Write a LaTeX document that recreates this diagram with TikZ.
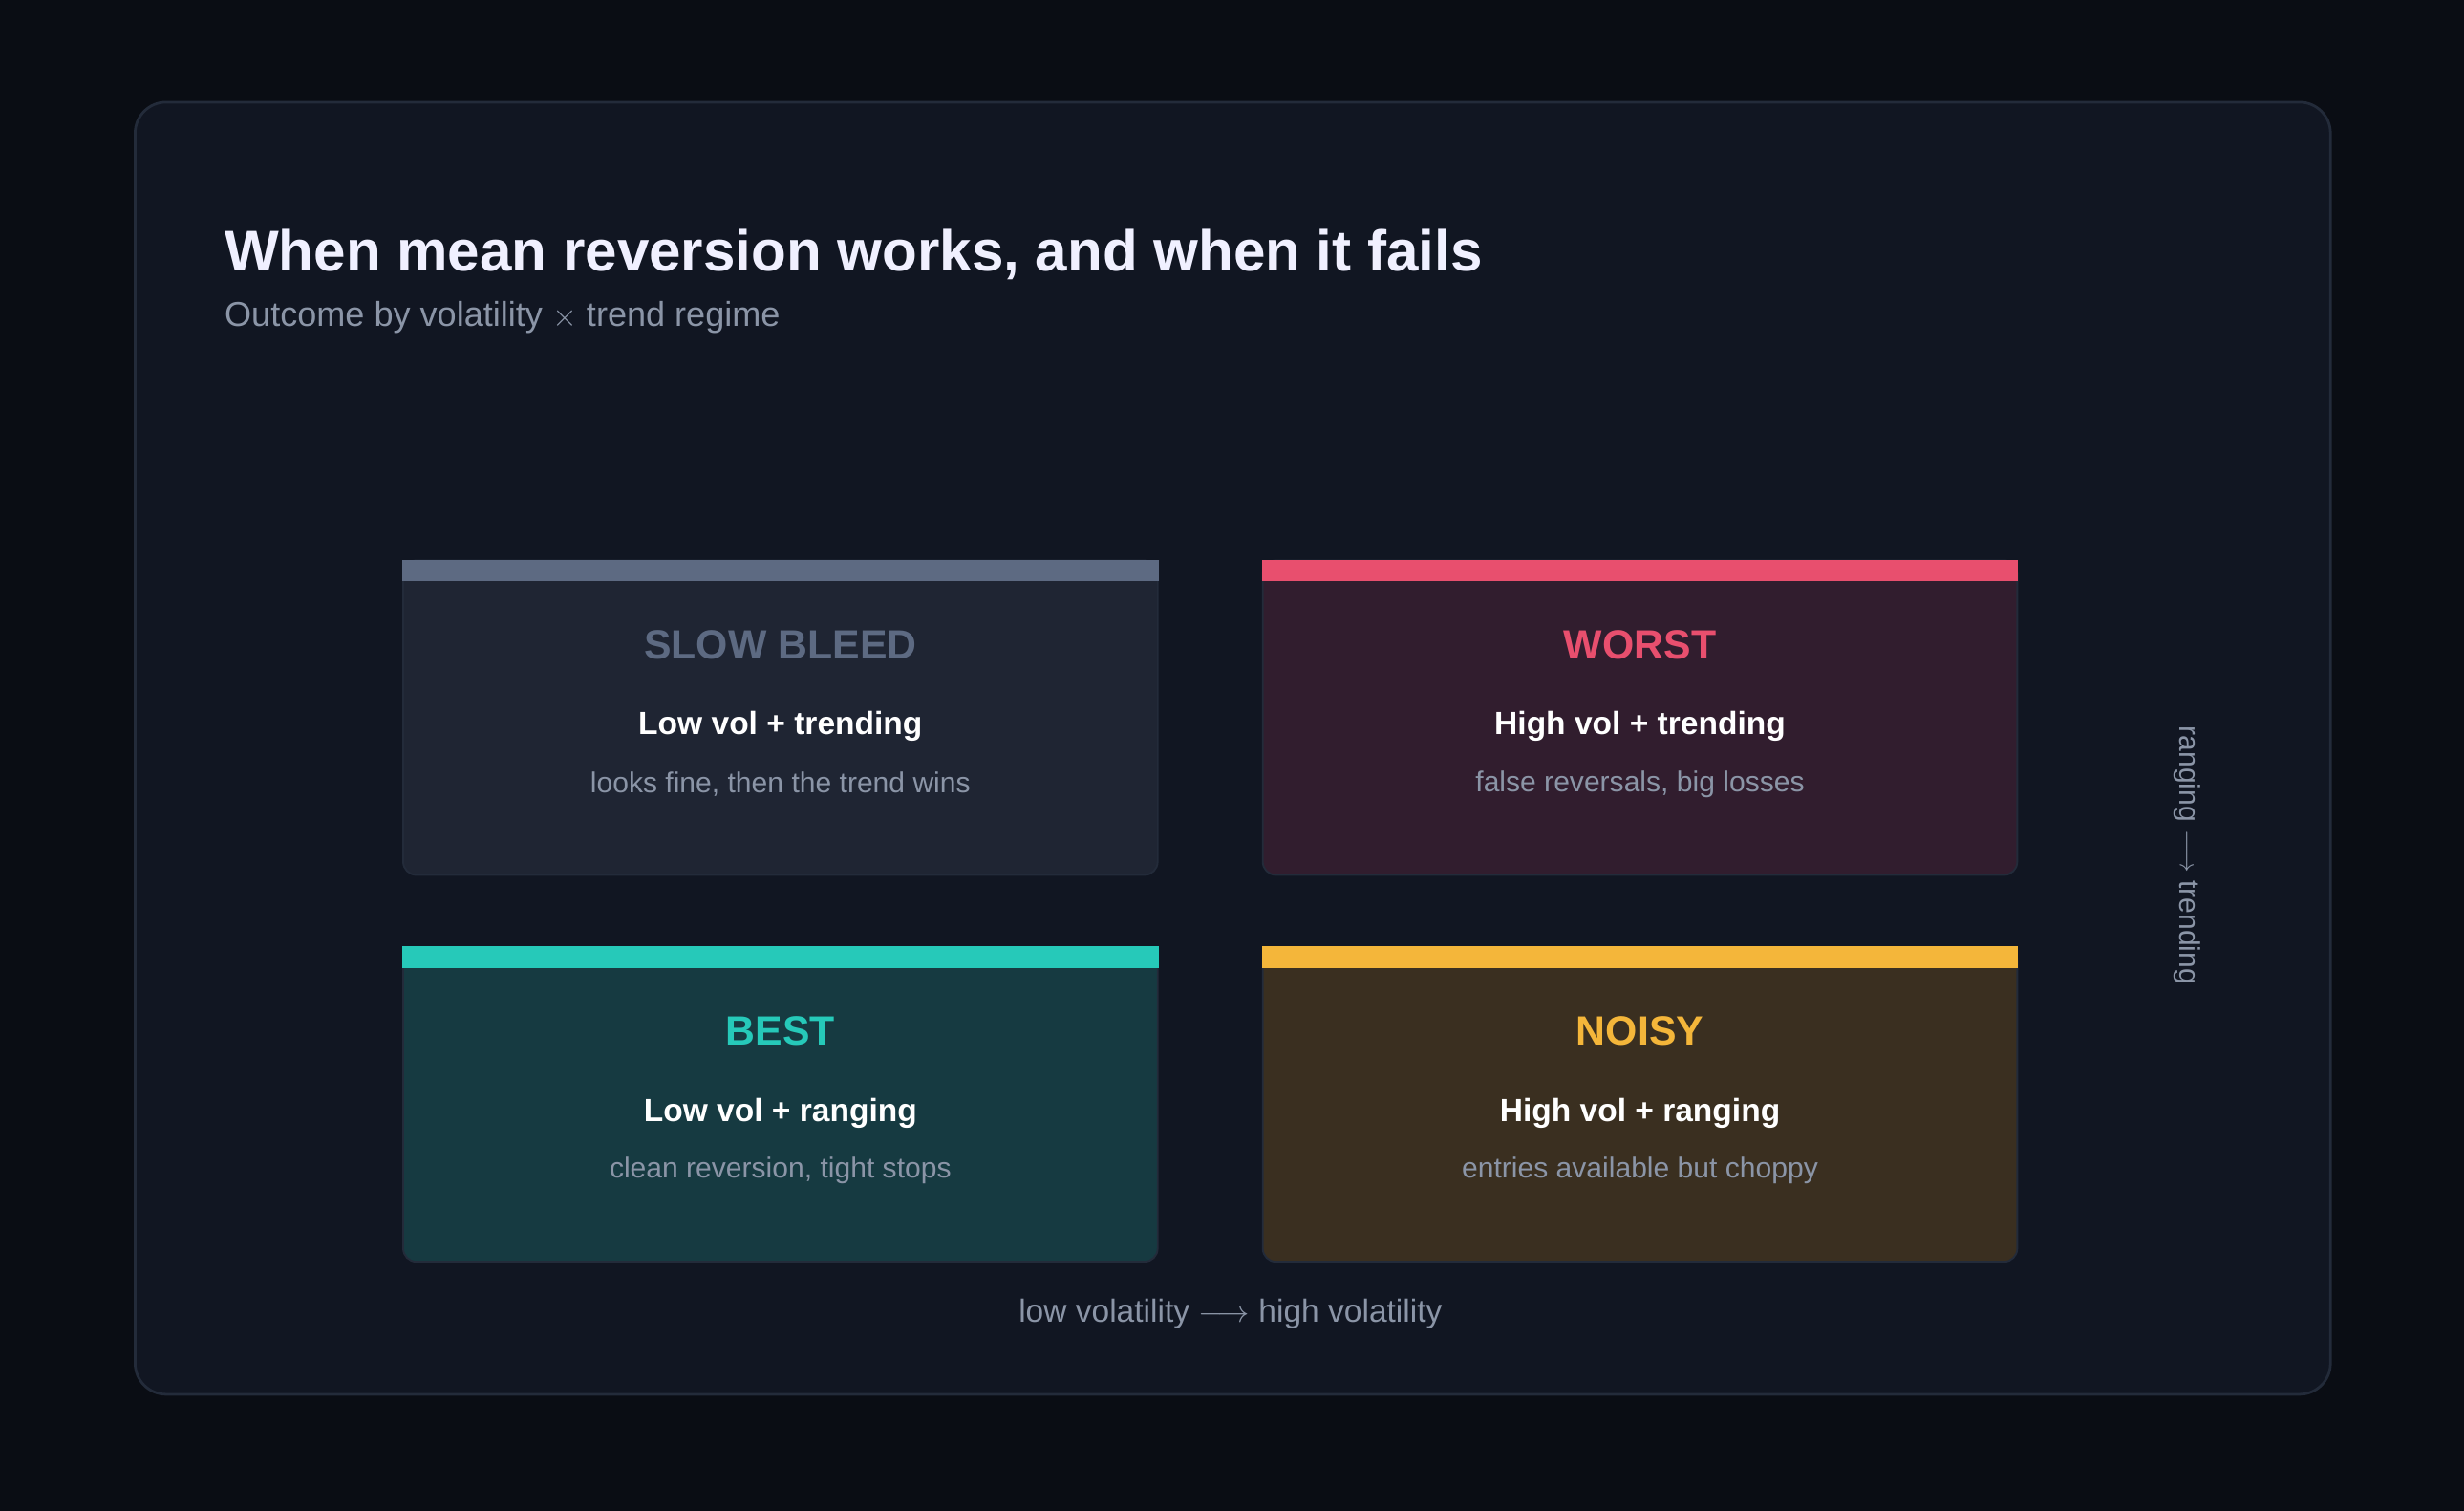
\documentclass[tikz,border=0pt]{standalone}
\usepackage{fontspec}
\setmainfont{Liberation Sans}
\usetikzlibrary{positioning}
\definecolor{bgdark}{HTML}{0A0D14}
\definecolor{panel}{HTML}{111622}
\definecolor{panelline}{HTML}{232B3A}
\definecolor{subgray}{HTML}{8B95A7}
\definecolor{slowbar}{HTML}{5D6A82}
\definecolor{slowfill}{HTML}{1F2533}
\definecolor{worstbar}{HTML}{E84F6E}
\definecolor{worstfill}{HTML}{311D2E}
\definecolor{bestbar}{HTML}{26C9B9}
\definecolor{bestfill}{HTML}{163A41}
\definecolor{noisybar}{HTML}{F4B63A}
\definecolor{noisyfill}{HTML}{3A2F20}
\begin{document}
\begin{tikzpicture}[x=0.025cm,y=-0.025cm]
		\tikzstyle{card}=[rectangle, rounded corners=6pt, minimum width=12cm, minimum height=5cm, draw=panelline, line width=0.8pt, anchor=north west]
		\tikzstyle{head}=[font=\fontsize{18.5}{20}\selectfont\bfseries, node distance=1.4cm]
		\tikzstyle{what}=[font=\fontsize{14.5}{16}\selectfont\bfseries, text=white, node distance=0.55cm]
		\tikzstyle{note}=[font=\fontsize{13}{15}\selectfont, text=subgray, node distance=0.45cm]
		\tikzstyle{axis}=[font=\fontsize{14.5}{16}\selectfont, text=subgray]
		\fill[bgdark] (0,0) rectangle (1568,961);
		\useasboundingbox (0,0) rectangle (1568,961);
		\draw[panelline, fill=panel, line width=1.2pt, rounded corners=14pt] (86,65) rectangle (1483,887);
		\node[anchor=west, text=white!94!blue, font=\fontsize{26}{30}\selectfont\bfseries] (title) at (138,162) {When mean reversion works, and when it fails};
		\node[anchor=west, text=subgray, font=\fontsize{15.6}{18}\selectfont] (subtitle) at (138,202) {Outcome by volatility $\times$ trend regime};
		
		% quadrants
		\foreach \name/\x/\y/\bar/\bg/\top/\mid/\low in {
			slow/256/356/slowbar/slowfill/SLOW BLEED/Low vol + trending/{looks fine, then the trend wins},
			worst/803/356/worstbar/worstfill/WORST/High vol + trending/{false reversals, big losses},
			best/256/602/bestbar/bestfill/BEST/Low vol + ranging/{clean reversion, tight stops},
			noisy/803/602/noisybar/noisyfill/NOISY/High vol + ranging/{entries available but choppy}} {
			\node[card, fill=\bg] (\name) at (\x,\y) {};
			\fill[\bar] (\name.north west) rectangle ([yshift=-0.34cm]\name.north east);
			\node[head, text=\bar] (\name-head) [below=1.35cm of \name.north, anchor=center] {\top};
			\node[what] (\name-what) [below=1.3cm of \name-head.center, anchor=center] {\mid};
			\node[note] (\name-note) [below=0.92cm of \name-what.center, anchor=center] {\low};
		}
		
		\node[axis] (xaxis) at (783,836) {low volatility $\longrightarrow$ high volatility};
		\node[axis, rotate=-90, font=\fontsize{13}{15}\selectfont] (yaxis) at (1392,544) {ranging $\longrightarrow$ trending};
	\end{tikzpicture}
\end{document}
